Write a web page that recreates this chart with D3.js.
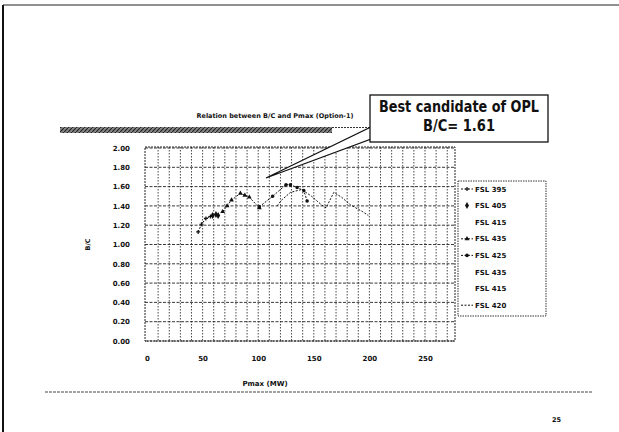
<!DOCTYPE html>
<head>
<meta charset="utf-8">
<style>
body { margin: 0; background: #fff; }
text { font-family: "DejaVu Sans", sans-serif; font-weight: bold; fill: #111; }
.tick text { font-size: 7px; }
.grid-h line { stroke: #222; stroke-dasharray: 3,1.5; stroke-width: 0.9; }
.grid-v line { stroke: #333; stroke-dasharray: 1.5,1.5; stroke-width: 0.9; }
.series { fill: none; stroke: #111; stroke-width: 1; stroke-dasharray: 2,1.5; }
</style>
</head>
<body>
<svg width="619" height="432"></svg>
<script src="https://cdnjs.cloudflare.com/ajax/libs/d3/7.8.5/d3.min.js"></script>
<script>
// values (Pmax in MW, B/C)
var xTicks = [0, 50, 100, 150, 200, 250];
var yTicks = [0, 0.2, 0.4, 0.6, 0.8, 1.0, 1.2, 1.4, 1.6, 1.8, 2.0];
var legendNames = ["FSL 395", "FSL 405", "FSL 415", "FSL 435", "FSL 425", "FSL 435", "FSL 415", "FSL 420"];

var fsl395 = [[46, 1.13], [49, 1.21], [53, 1.27], [57, 1.29]];
var fsl405 = [[59, 1.30], [62, 1.31], [64, 1.30]];
var fsl415 = [];
var fsl435 = [[68, 1.34], [72, 1.40], [76, 1.46], [84, 1.53], [88, 1.51], [92, 1.49], [101, 1.38]];
var fsl425 = [[101, 1.39], [113, 1.50], [125, 1.62], [129, 1.62], [135, 1.59], [141, 1.56], [144, 1.45]];
var fsl435b = [];
var fsl415b = [];
var fsl420 = [[117, 1.40], [121, 1.46], [129, 1.54], [139, 1.57], [148, 1.50], [157, 1.41], [161, 1.38],
              [168, 1.54], [175, 1.49], [183, 1.41], [194, 1.34], [199, 1.30]];
var bestPoint = [107, 1.69];   // where the callout points

var seriesData = [fsl395, fsl405, fsl415, fsl435, fsl425, fsl435b, fsl415b, fsl420];
// line / marker look of each legend entry
var lineOn = [true, false, false, true, true, false, false, true];
var markerKind = ["plus", "diamond", null, "triangle", "circle", null, null, null];

var svg = d3.select("svg");

// slide frame
svg.append("line").attr("x1", 3).attr("y1", 5).attr("x2", 3).attr("y2", 432)
    .attr("stroke", "#111").attr("stroke-width", 2);
svg.append("line").attr("x1", 3).attr("y1", 5).attr("x2", 619).attr("y2", 5)
    .attr("stroke", "#222").attr("stroke-width", 1.2);

// hatched header bar
var defs = svg.append("defs");
var pat = defs.append("pattern").attr("id", "hatch").attr("patternUnits", "userSpaceOnUse")
    .attr("width", 4).attr("height", 4);
pat.append("rect").attr("width", 4).attr("height", 4).attr("fill", "#888");
pat.append("path").attr("d", "M0,4 L4,0").attr("stroke", "#222").attr("stroke-width", 1.2);
svg.append("rect").attr("x", 60).attr("y", 127).attr("width", 272).attr("height", 6)
    .attr("fill", "url(#hatch)");
svg.append("line").attr("x1", 332).attr("y1", 127.5).attr("x2", 370).attr("y2", 127.5)
    .attr("stroke", "#333").attr("stroke-dasharray", "2,1");

// chart title
svg.append("text").attr("x", 275).attr("y", 118).attr("text-anchor", "middle")
    .style("font-size", "6.5px").text("Relation between B/C and Pmax (Option-1)");

var mLeft = 145, mRight = 455, mTop = 147, mBottom = 341;

var x = d3.scaleLinear().domain([0, 250]).range([147, 425]);
var y = d3.scaleLinear().domain([0, 2]).range([mBottom, 148]);

// grid
svg.append("g").attr("class", "grid-v").selectAll("line")
    .data(d3.range(10, 280, 10))
  .enter().append("line")
    .attr("x1", function(d) { return x(d); }).attr("x2", function(d) { return x(d); })
    .attr("y1", mTop).attr("y2", mBottom);

svg.append("g").attr("class", "grid-h").selectAll("line")
    .data(yTicks)
  .enter().append("line")
    .attr("x1", mLeft).attr("x2", mRight)
    .attr("y1", function(d) { return y(d); }).attr("y2", function(d) { return y(d); });

svg.append("rect").attr("x", mLeft).attr("y", mTop).attr("width", mRight - mLeft).attr("height", mBottom - mTop)
    .attr("fill", "none").attr("stroke", "#222").attr("stroke-dasharray", "2,1");

// axes (labels only, like the original)
var yAxis = svg.append("g").attr("transform", "translate(" + (mLeft - 12) + ",0)")
    .call(d3.axisLeft(y).tickValues(yTicks).tickFormat(d3.format(".2f")).tickSize(0));
var xAxis = svg.append("g").attr("transform", "translate(0," + (mBottom + 12) + ")")
    .call(d3.axisBottom(x).tickValues(xTicks).tickSize(0));
yAxis.select(".domain").remove();
xAxis.select(".domain").remove();

svg.append("text").attr("transform", "translate(90," + y(1.0) + ") rotate(-90)")
    .attr("text-anchor", "middle").style("font-size", "6.5px").text("B/C");
svg.append("text").attr("x", 265).attr("y", 386).attr("text-anchor", "middle")
    .style("font-size", "7px").text("Pmax (MW)");

// series
var line = d3.line().x(function(d) { return x(d[0]); }).y(function(d) { return y(d[1]); });

function marker(sel, kind) {
  if (kind === "plus") {
    sel.append("path").attr("d", "M-2,0H2M0,-2V2").attr("stroke", "#111").attr("stroke-width", 1.2);
  } else if (kind === "diamond") {
    sel.append("path").attr("d", d3.symbol(d3.symbolDiamond, 14)).attr("fill", "#111");
  } else if (kind === "triangle") {
    sel.append("path").attr("d", d3.symbol(d3.symbolTriangle, 10)).attr("fill", "#111");
  } else if (kind === "circle") {
    sel.append("path").attr("d", d3.symbol(d3.symbolCircle, 10)).attr("fill", "#111");
  }
}

seriesData.forEach(function(data, i) {
  if (!data.length) return;
  if (lineOn[i]) {
    svg.append("path").datum(data).attr("class", "series").attr("d", line);
  }
  if (markerKind[i]) {
    svg.append("g").selectAll("g").data(data).enter().append("g")
        .attr("transform", function(d) { return "translate(" + x(d[0]) + "," + y(d[1]) + ")"; })
        .each(function() { marker(d3.select(this), markerKind[i]); });
  }
});

// legend
var lg = svg.append("g");
lg.append("rect").attr("x", 458).attr("y", 181).attr("width", 88).attr("height", 135)
    .attr("fill", "#fff").attr("stroke", "#333").attr("stroke-dasharray", "1.5,1");
var item = lg.selectAll(".item").data(legendNames).enter().append("g")
    .attr("transform", function(d, i) { return "translate(0," + (189 + i * 16.6) + ")"; });
item.append("text").attr("x", 475).attr("y", 2.5).style("font-size", "7px").text(function(d) { return d; });
item.filter(function(d, i) { return lineOn[i]; }).append("line")
    .attr("x1", 461).attr("x2", 473).attr("stroke", "#111").attr("stroke-dasharray", "2,1.5");
item.append("g").attr("transform", "translate(467,0)")
    .each(function(d, i) { marker(d3.select(this), markerKind[i]); });

// callout
var tipX = x(bestPoint[0]), tipY = y(bestPoint[1]);
svg.append("path").attr("d", "M" + tipX + "," + tipY + " L371,127 L371,139 Z")
    .attr("fill", "#fff").attr("stroke", "#111").attr("stroke-width", 1.1);
svg.append("rect").attr("x", 370).attr("y", 95).attr("width", 178).attr("height", 47)
    .attr("fill", "#fff").attr("stroke", "#111").attr("stroke-width", 1.3);
svg.append("text").attr("x", 459).attr("y", 112).attr("text-anchor", "middle")
    .attr("textLength", 160).attr("lengthAdjust", "spacingAndGlyphs")
    .style("font-size", "15px").text("Best candidate of OPL");
svg.append("text").attr("x", 459).attr("y", 131).attr("text-anchor", "middle")
    .attr("textLength", 72).attr("lengthAdjust", "spacingAndGlyphs")
    .style("font-size", "15px").text("B/C= 1.61");

// footer
svg.append("line").attr("x1", 45).attr("x2", 592).attr("y1", 392).attr("y2", 392)
    .attr("stroke", "#444").attr("stroke-dasharray", "3,1");
svg.append("text").attr("x", 552).attr("y", 422).style("font-size", "6.5px").text("25");
</script>
</body>
